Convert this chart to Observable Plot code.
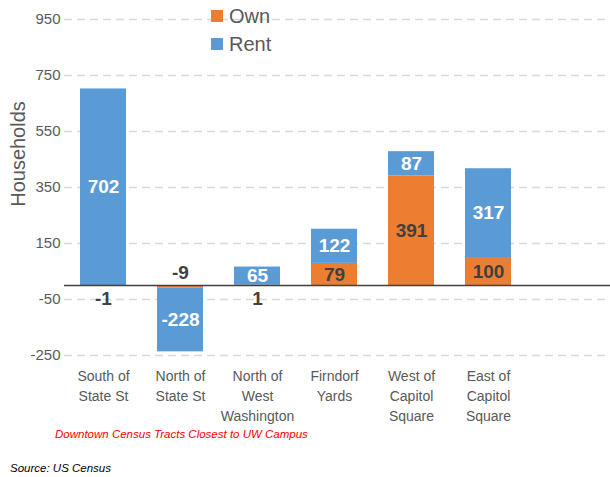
<!DOCTYPE html>
<html>
<head>
<meta charset="utf-8">
<script src="https://cdn.jsdelivr.net/npm/d3@7"></script>
<script src="https://cdn.jsdelivr.net/npm/@observablehq/plot@0.6"></script>
<style>
  body { margin: 0; background: #fff; font-family: "Liberation Sans", Arial, sans-serif; }
  #wrap { position: relative; width: 610px; height: 477px; overflow: hidden; }
  .leg { position: absolute; font-size: 20px; color: #595959; line-height: 20px; }
  .sw { position: absolute; width: 12px; height: 12px; }
  .cap { position: absolute; font-style: italic; font-size: 11.5px; white-space: nowrap; }
  .ylab { position: absolute; font-size: 20px; color: #595959; transform: translate(-50%, -50%) rotate(-90deg); white-space: nowrap; }
</style>
</head>
<body>
<div id="wrap"></div>
<script>
const tracts = ["South of State St", "North of State St", "North of West Washington", "Firndorf Yards", "West of Capitol Square", "East of Capitol Square"];
const tickLabels = ["South of\nState St", "North of\nState St", "North of\nWest\nWashington", "Firndorf\nYards", "West of\nCapitol\nSquare", "East of\nCapitol\nSquare"];
const own = [-1, -9, 1, 79, 391, 100];
const rent = [702, -228, 65, 122, 87, 317];
const series = ["Own", "Rent"];
const colors = ["#ED7D31", "#5B9BD5"];
const yTicks = [950, 750, 550, 350, 150, -50, -250];

const rows = [
  ...tracts.map((t, i) => ({tract: t, type: "Own", value: own[i]})),
  ...tracts.map((t, i) => ({tract: t, type: "Rent", value: rent[i]}))
];
const tickMap = new Map(tracts.map((t, i) => [t, tickLabels[i]]));
const big = d => Math.abs(d.value) >= 20;

const chart = Plot.plot({
  width: 610,
  height: 425,
  marginTop: 19,
  marginBottom: 70,
  marginLeft: 64,
  marginRight: 0,
  style: {fontFamily: "Liberation Sans, Arial, sans-serif", background: "white"},
  x: {domain: tracts, range: [64, 528], paddingInner: 0.4, paddingOuter: 0.2, label: null},
  y: {domain: [-250, 950], label: null},
  color: {domain: series, range: colors},
  marks: [
    Plot.ruleY(yTicks, {stroke: "#D9D9D9", strokeWidth: 1.5, strokeDasharray: "8,5"}),
    Plot.barY(rows, {x: "tract", y: "value", fill: "type", z: "type"}),
    Plot.ruleY([0], {stroke: "#404040", strokeWidth: 1.5}),
    Plot.text(rows, Plot.stackY({x: "tract", y: "value", z: "type",
      text: d => d.type === "Own" && big(d) ? String(d.value) : "",
      fill: "#404040", fontSize: 19, fontWeight: "bold"})),
    Plot.text(rows, Plot.stackY({x: "tract", y: "value", z: "type",
      text: d => d.type === "Rent" && big(d) ? String(d.value) : "",
      fill: "white", fontSize: 19, fontWeight: "bold"})),
    Plot.text(rows.filter(d => !big(d) && d.value > -5), {x: "tract", y: 0, text: d => String(d.value), dy: 13, fill: "#404040", fontSize: 19, fontWeight: "bold"}),
    Plot.text(rows.filter(d => !big(d) && d.value <= -5), {x: "tract", y: 0, text: d => String(d.value), dy: -13, fill: "#404040", fontSize: 19, fontWeight: "bold"}),
    Plot.axisY({ticks: yTicks, tickFormat: d => String(d), tickSize: 0, tickPadding: 4, fontSize: 15, fill: "#595959", label: null}),
    Plot.axisX({tickSize: 0, tickPadding: 12, fontSize: 14, lineHeight: 1.4, fill: "#595959", tickFormat: d => tickMap.get(d), label: null})
  ]
});

const wrap = document.getElementById("wrap");
chart.style.position = "absolute";
chart.style.left = "0px";
chart.style.top = "0px";
wrap.appendChild(chart);

function add(html) { wrap.insertAdjacentHTML("beforeend", html); }
add(`<div class="sw" style="left:211px;top:10px;background:${colors[0]}"></div>`);
add(`<div class="leg" style="left:229px;top:6px">${series[0]}</div>`);
add(`<div class="sw" style="left:211px;top:38px;background:${colors[1]}"></div>`);
add(`<div class="leg" style="left:229px;top:34px">${series[1]}</div>`);
add(`<div class="ylab" style="left:18px;top:154px">Households</div>`);
add(`<div class="cap" style="left:55px;top:428px;color:#FF0000">Downtown Census Tracts Closest to UW Campus</div>`);
add(`<div class="cap" style="left:10px;top:462px;color:#000">Source: US Census</div>`);
</script>
</body>
</html>
